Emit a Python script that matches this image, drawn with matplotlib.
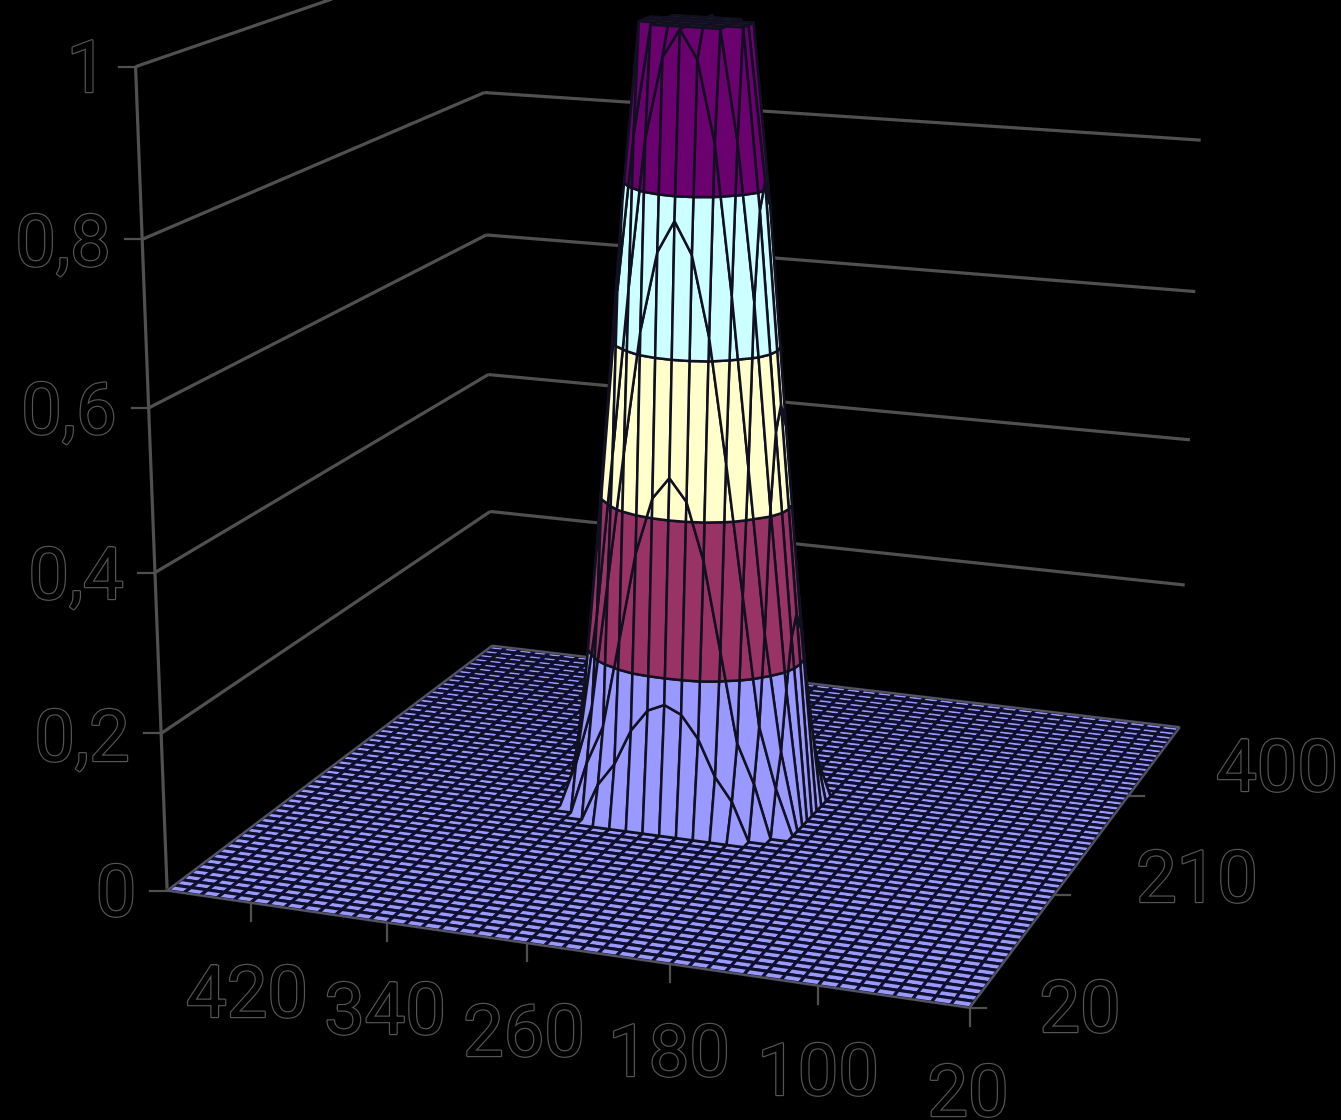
import numpy as np
import matplotlib
matplotlib.use("Agg")
import matplotlib.pyplot as plt
import matplotlib.patheffects as pe
from matplotlib.lines import Line2D
from mpl_toolkits.mplot3d.art3d import Poly3DCollection, Line3DCollection

# ---- data ----
x_values = np.arange(20, 480, 10)
y_values = np.arange(20, 560, 10)
z_ticks = [0, 0.2, 0.4, 0.6, 0.8, 1]
z_labels = ["0", "0,2", "0,4", "0,6", "0,8", "1"]
x_ticks = [420, 340, 260, 180, 100, 20]
x_labels = ["420", "340", "260", "180", "100", "20"]
y_ticks = [20, 210, 400]
y_labels = ["20", "210", "400"]
band_levels = [0, 0.2, 0.4, 0.6, 0.8, 1.0]
band_colors = ["#9999ff", "#993366", "#ffffcc", "#ccffff", "#6b006f"]
cap_color = "#7a4040"
peak_x, peak_y = 250, 290
# one quadrant of the beam, read outwards from the peak
# (rows: steps of 10 in y, columns: steps of 10 in x)
beam_quadrant = [
    [1.000, 1.000, 1.000, 1.000, 0.810, 0.533, 0.265, 0.000, 0.000, 0],
    [1.000, 1.000, 1.000, 1.000, 0.778, 0.502, 0.240, 0.000, 0.000, 0],
    [1.000, 1.000, 1.000, 0.865, 0.669, 0.410, 0.177, 0.000, 0.000, 0],
    [1.000, 0.965, 0.865, 0.679, 0.465, 0.254, 0.102, 0.000, 0.000, 0],
    [0.770, 0.730, 0.630, 0.474, 0.306, 0.139, 0.060, 0.000, 0.000, 0],
    [0.453, 0.425, 0.352, 0.237, 0.121, 0.070, 0.000, 0.000, 0.000, 0],
    [0.166, 0.156, 0.127, 0.080, 0.050, 0.000, 0.000, 0.000, 0.000, 0],
    [0.000, 0.000, 0.000, 0.000, 0.000, 0.000, 0.000, 0.000, 0.000, 0],
    [0.000, 0.000, 0.000, 0.000, 0.000, 0.000, 0.000, 0.000, 0.000, 0],
    [0.000, 0.000, 0.000, 0.000, 0.000, 0.000, 0.000, 0.000, 0.000, 0],
]

# ---- camera calibration: axis-box points (x, y, z) and where they fall in the image ----
W, H = 1341, 1120
calib_world = [(20, 20, 0), (470, 20, 0), (470, 550, 0), (20, 550, 0), (470, 20, 1),
               (470, 550, 0.8), (20, 550, 0.8), (470, 550, 0.4), (20, 550, 0.4), (470, 20, 0.6)]
calib_image = [(970, 1008), (168, 890), (490, 646), (1180, 727), (135, 67),
               (485, 92), (1200, 140), (490, 375), (1190, 440), (148, 408)]


def fit_camera():
    N = np.array([[1 / 450, 0, 0, -20 / 450], [0, 1 / 530, 0, -20 / 530],
                  [0, 0, 1, 0], [0, 0, 0, 1]])
    rows, rhs = [], []
    for (x, y, z), (u, v) in zip(calib_world, calib_image):
        p = N @ np.array([x, y, z, 1.0])
        rows.append([*p, 0, 0, 0, 0, *(-u * p[:3])])
        rhs.append(u)
        rows.append([0, 0, 0, 0, *p, *(-v * p[:3])])
        rhs.append(v)
    sol = np.linalg.lstsq(np.array(rows), np.array(rhs), rcond=None)[0]
    P = np.append(sol, 1.0).reshape(3, 4) @ N
    return np.array([P[0], P[1], [0, 0, 0, -1.0], P[2]])


M = fit_camera()


def project(x, y, z):
    q = M @ np.array([x, y, z, 1.0])
    return q[0] / q[3], q[1] / q[3]


# ---- surface ----
Q = np.array(beam_quadrant)
beam = np.block([[Q[::-1, ::-1], Q[::-1, 1:]], [Q[1:, ::-1], Q[1:, 1:]]])
Z = np.zeros((len(y_values), len(x_values)))
ci = int(np.searchsorted(x_values, peak_x))
cj = int(np.searchsorted(y_values, peak_y))
Z[cj - 9:cj + 10, ci - 9:ci + 10] = beam


def clip(poly, level, keep_above):
    out = []
    n = len(poly)
    for k in range(n):
        a, b = poly[k], poly[(k + 1) % n]
        da, db = a[2] - level, b[2] - level
        ina = da >= 0 if keep_above else da <= 0
        inb = db >= 0 if keep_above else db <= 0
        if ina:
            out.append(a)
        if ina != inb:
            f = da / (da - db)
            out.append(tuple(a[m] + f * (b[m] - a[m]) for m in range(3)))
    return out


floor_polys, beam_polys, beam_faces = [], [], []
for j in range(len(y_values) - 1):
    for i in range(len(x_values) - 1):
        quad = [(x_values[i], y_values[j], Z[j, i]), (x_values[i + 1], y_values[j], Z[j, i + 1]),
                (x_values[i + 1], y_values[j + 1], Z[j + 1, i + 1]), (x_values[i], y_values[j + 1], Z[j + 1, i])]
        zs = [c[2] for c in quad]
        if max(zs) == 0:
            floor_polys.append(quad)
        elif min(zs) >= 1:
            beam_polys.append(quad)
            beam_faces.append(cap_color)
        else:
            for b, col in enumerate(band_colors):
                piece = clip(clip(quad, band_levels[b], True), band_levels[b + 1], False)
                if len(piece) >= 3:
                    beam_polys.append(piece)
                    beam_faces.append(col)

# ---- figure ----
fig = plt.figure(figsize=(W / 100, H / 100), dpi=100, facecolor="black")
ax = fig.add_axes([0, 0, 1, 1], projection="3d", computed_zorder=False, facecolor="black")
ax.set_axis_off()
ax.get_proj = lambda: M


def hold_view(position=None):
    ax._viewLim.intervalx = (0, W)
    ax._viewLim.intervaly = (H, 0)


ax.apply_aspect = hold_view

GRID = "#505050"
xmin, xmax, ymin, ymax = x_values[0], x_values[-1], y_values[0], y_values[-1]
wall_segments = []
for z in z_ticks[1:]:
    wall_segments.append([(xmax, ymin, z), (xmax, ymax, z)])
    wall_segments.append([(xmax, ymax, z), (xmin, ymax, z)])
wall_segments.append([(xmax, ymin, 0), (xmax, ymin, 1)])
ax.add_collection3d(Line3DCollection(wall_segments, colors=GRID, linewidths=2.3, zorder=1))

ax.add_collection3d(Poly3DCollection(floor_polys, facecolors="#9999ff", edgecolors="#10102e",
                                     linewidths=2.2, zorder=2, zsort="average"))
back_edges = [[(xmax, ymin, 0), (xmax, ymax, 0)], [(xmax, ymax, 0), (xmin, ymax, 0)]]
front_edges = [[(xmax, ymin, 0), (xmin, ymin, 0)], [(xmin, ymin, 0), (xmin, ymax, 0)]]
ax.add_collection3d(Line3DCollection(back_edges + front_edges, colors="#55555f", linewidths=1.6, zorder=2.5))
ax.add_collection3d(Poly3DCollection(beam_polys, facecolors=beam_faces, edgecolors="#101020",
                                     linewidths=1.8, zorder=3, zsort="average"))


def fig_line(px, py):
    fig.add_artist(Line2D([p / W for p in px], [1 - p / H for p in py], color=GRID, lw=1.6,
                          transform=fig.transFigure))


for z in z_ticks:
    u, v = project(xmax, ymin, z)
    fig_line([u - 17, u], [v, v])
for x in x_ticks:
    u, v = project(x, ymin, 0)
    fig_line([u, u], [v, v + 18])
for y in y_ticks:
    u, v = project(xmin, y, 0)
    fig_line([u, u + 16], [v, v])

stroke = [pe.Stroke(linewidth=1.7, foreground="#565656"), pe.Normal()]
z_pos = [(116, 916), (82, 761), (76, 599), (69, 434), (63, 266), (87, 92)]
x_pos = [(247, 1017), (385, 1034), (524, 1056), (669, 1076), (818, 1095), (968, 1116)]
y_pos = [(1080, 1032), (1197, 902), (1277, 791)]
for labels, pos in ((z_labels, z_pos), (x_labels, x_pos), (y_labels, y_pos)):
    for s, (u, v) in zip(labels, pos):
        fig.text(u / W, 1 - v / H, s, color="black", fontsize=52, family="Roboto",
                 ha="center", va="baseline", path_effects=stroke)

fig.savefig("out.png", dpi=100, facecolor="black")
